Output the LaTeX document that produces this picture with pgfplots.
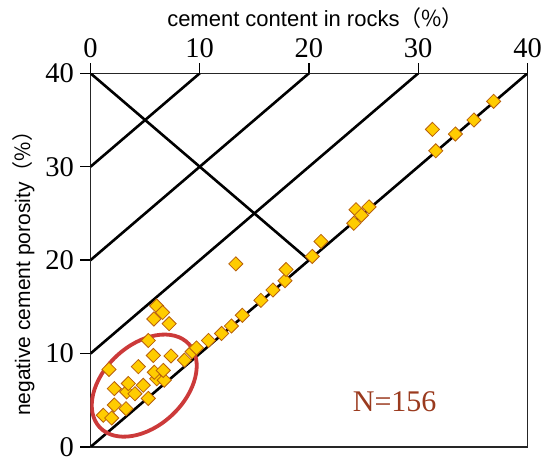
\documentclass[border=0pt]{standalone}
\usepackage{fontspec}
\setmainfont{Liberation Serif}
\newfontfamily\sans{Liberation Sans}
\newfontfamily\cjk{Noto Sans CJK SC}
\usepackage{pgfplots}
\pgfplotsset{compat=1.18}
\definecolor{ptfill}{HTML}{FFCC00}
\definecolor{ptedge}{HTML}{B8600C}
\definecolor{ellred}{HTML}{CC3A3A}
\definecolor{ntext}{HTML}{9A3A1E}
\begin{document}
\begin{tikzpicture}
\path[use as bounding box] (0,0) rectangle (550pt,466pt);
\begin{axis}[
  at={(90.5pt,19pt)}, anchor=south west,
  scale only axis, width=437pt, height=373.7pt,
  xmin=0, xmax=40, ymin=0, ymax=40,
  axis line style={line width=1.3pt, color=black!85},
  xtick={0,10,20,30,40}, ytick={0,10,20,30,40},
  xtick pos=right, ytick pos=left, xticklabel pos=right,
  tick align=outside, major tick length=10pt,
  tick style={line width=1.3pt, black},
  ticklabel style={font=\fontsize{28.5}{30}\selectfont},
  xticklabel style={yshift=2pt},
  yticklabel style={xshift=-3pt},
  /pgf/number format/assume math mode=true,
  xlabel={\sans cement content in rocks{\cjk （\%）}},
  xlabel style={font=\fontsize{22}{24}\selectfont, at={(axis description cs:0.515,1.1252)}, anchor=base},
  ylabel={\sans negative cement porosity{\cjk （\%）}},
  ylabel style={font=\fontsize{21}{24}\selectfont, at={(axis description cs:-0.1384,0.478)}, anchor=base, rotate=0},
]
\addplot[black, line width=2.6pt] coordinates {(0,0) (40,40)};
\addplot[black, line width=2.6pt] coordinates {(0,10) (30,40)};
\addplot[black, line width=2.6pt] coordinates {(0,20) (20,40)};
\addplot[black, line width=2.6pt] coordinates {(0,30) (10,40)};
\addplot[black, line width=2.6pt] coordinates {(0,40) (20,20)};
\draw[ellred, line width=3.8pt] (axis cs:4.92,6.57) circle[x radius=61pt, y radius=40.5pt, rotate=43];
\addplot[only marks, mark=square*, mark size=5pt, mark options={rotate=45, fill=ptfill, draw=ptedge, line width=0.8pt}] coordinates {
(1.17,3.4) (1.94,3.1) (2.18,4.5) (3.25,4.1) (2.18,6.25) (3.31,5.9) (3.46,6.8) (4.07,5.7)
(4.83,6.6) (5.29,5.2) (6.06,7.3) (6.75,7.15) (5.84,8.0) (6.66,8.2) (4.38,8.6) (1.69,8.3)
(5.75,9.8) (7.37,9.75) (5.29,11.4)
(6.05,15.1) (6.6,14.4) (5.8,13.7) (7.2,13.2)
(8.6,9.3) (9.3,10.2) (9.7,10.6) (10.8,11.4) (12.0,12.15) (12.9,12.95) (13.9,14.1)
(15.6,15.7) (16.7,16.8) (17.8,17.8) (17.9,19.0) (20.3,20.4) (21.1,22.0)
(24.1,23.95) (24.3,25.4) (24.8,24.8) (25.5,25.7)
(31.6,31.7) (31.3,34.0) (33.4,33.5) (35.1,35.0) (36.9,37.0)
(13.3,19.6)
};
\node[text=ntext, font=\fontsize{30}{30}\selectfont, anchor=west, inner sep=0pt] at (axis cs:24.0,4.8) {N=156};
\end{axis}
\end{tikzpicture}
\end{document}
